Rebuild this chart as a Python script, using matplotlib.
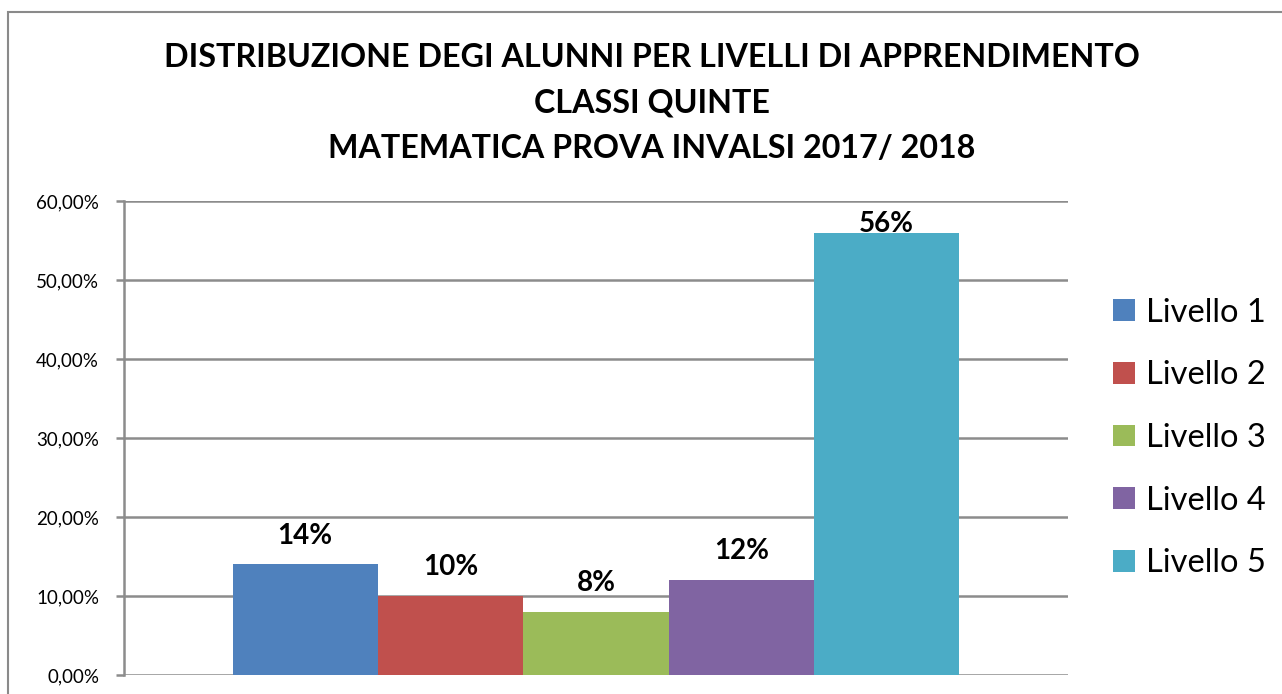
import matplotlib.pyplot as plt
from matplotlib.patches import Rectangle, Patch
from matplotlib.ticker import FuncFormatter

# data
livelli = ['Livello 1', 'Livello 2', 'Livello 3', 'Livello 4', 'Livello 5']
valori = [14, 10, 8, 12, 56]
etichette = ['14%', '10%', '8%', '12%', '56%']
colori = ['#4F81BD', '#C0504D', '#9BBB59', '#8064A2', '#4BACC6']
yticks = [0, 10, 20, 30, 40, 50, 60]

titolo = ('DISTRIBUZIONE DEGI ALUNNI PER LIVELLI DI APPRENDIMENTO\n'
          'CLASSI QUINTE\n'
          'MATEMATICA PROVA INVALSI 2017/ 2018')

plt.rcParams['font.family'] = ['Lato', 'DejaVu Sans']
grid_col = '#8c8c8c'

fig = plt.figure(figsize=[12.82, 6.94], dpi=100)
# chart border (cut at right and bottom like the screenshot)
fig.patches.append(Rectangle((8/1282, -0.05), 1.2, 1 - 12/694 + 0.05,
                             transform=fig.transFigure, fill=False,
                             edgecolor='#8a8a8a', linewidth=1.5))

ax = fig.add_axes([124/1282, 19/694, 944/1282, 474/694])

bw = 0.154
n = len(valori)
for i, (v, c, lab) in enumerate(zip(valori, colori, etichette)):
    x = (i - (n - 1) / 2) * bw
    ax.bar(x, v, width=bw, color=c, zorder=3)
    # label stays inside the plot area (like Excel does for the tall bar)
    ax.text(x, min(v + 2.0, 55.4), lab, ha='center', va='bottom',
            fontsize=20, fontweight='bold', zorder=4)

ax.set_xlim(-0.5, 0.5)
ax.set_ylim(0, 60)
ax.set_yticks(yticks)
ax.yaxis.set_major_formatter(FuncFormatter(lambda y, p: ('%.2f%%' % y).replace('.', ',')))
ax.set_xticks([])
ax.grid(axis='y', color=grid_col, linewidth=1.8, zorder=0)
ax.tick_params(axis='y', length=6, width=1.8, color=grid_col, labelsize=13.5, pad=12)
for s in ['top', 'right', 'bottom']:
    ax.spines[s].set_visible(False)
ax.spines['left'].set_color(grid_col)
ax.spines['left'].set_linewidth(1.8)

fig.text(652/1282, 1 - 103/694, titolo, ha='center', va='center',
         fontsize=23.2, fontweight='bold', linespacing=1.68)

handles = [Patch(facecolor=c, label=l) for c, l in zip(colori, livelli)]
fig.legend(handles=handles, loc='center left', bbox_to_anchor=(1084/1282, 1 - 438/694),
           frameon=False, fontsize=23.5, handlelength=0.65, handleheight=0.65,
           handletextpad=0.35, labelspacing=1.0)

plt.savefig('out.png', dpi=100)
